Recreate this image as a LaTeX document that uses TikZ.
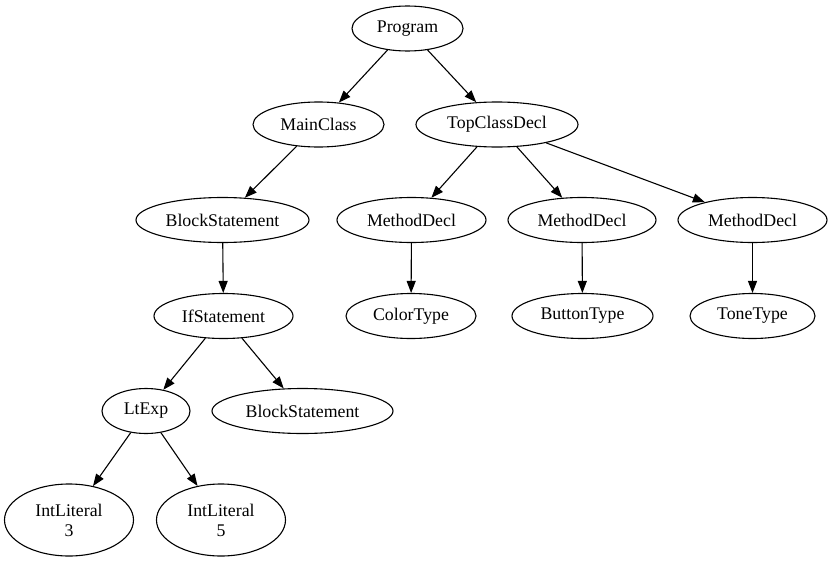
\documentclass[tikz,border=0pt]{standalone}
\usepackage{fontspec}
\setmainfont{Liberation Serif}
\usetikzlibrary{shapes.geometric,arrows.meta}
\begin{document}
\begin{tikzpicture}[x=1pt,y=-1pt,
  tn/.style={ellipse,draw,line width=1.1pt,inner sep=0pt,minimum height=45pt,align=center,font=\fontsize{17.8}{20}\selectfont},
  edge/.style={line width=1.1pt,-{Triangle[length=12pt,width=9pt]}}]
\useasboundingbox (0,0) rectangle (832,562);
\node[tn,minimum width=111pt] (P) at (407.5,28.5) {Program};
\node[tn,minimum width=131pt] (MC) at (318.5,124.5) {MainClass};
\node[tn,minimum width=162pt] (TC) at (497,124.5) {TopClassDecl};
\node[tn,minimum width=173pt] (BS1) at (222.5,220) {BlockStatement};
\node[tn,minimum width=149pt] (MD1) at (411.5,220) {MethodDecl};
\node[tn,minimum width=148pt] (MD2) at (582,220) {MethodDecl};
\node[tn,minimum width=149pt] (MD3) at (752.5,220) {MethodDecl};
\node[tn,minimum width=130pt] (CT) at (411,316) {ColorType};
\node[tn,minimum width=141pt] (BT) at (582.5,316) {ButtonType};
\node[tn,minimum width=125pt] (TT) at (752.5,316) {ToneType};
\node[tn,minimum width=139pt] (IS) at (223.5,316) {IfStatement};
\node[tn,minimum width=88pt] (LE) at (146,411) {LtExp};
\node[tn,minimum width=181pt] (BS2) at (302.5,411) {BlockStatement};
\node[tn,minimum width=129pt,minimum height=72pt] (IL3) at (69,520) {IntLiteral\\3};
\node[tn,minimum width=129pt,minimum height=72pt] (IL5) at (221,520) {IntLiteral\\5};
\draw[edge] (P) -- (MC);
\draw[edge] (P) -- (TC);
\draw[edge] (MC) -- (BS1);
\draw[edge] (BS1) -- (IS);
\draw[edge] (IS) -- (LE);
\draw[edge] (IS) -- (BS2);
\draw[edge] (LE) -- (IL3);
\draw[edge] (LE) -- (IL5);
\draw[edge] (TC) -- (MD1);
\draw[edge] (TC) -- (MD2);
\draw[edge] (TC) -- (MD3);
\draw[edge] (MD1) -- (CT);
\draw[edge] (MD2) -- (BT);
\draw[edge] (MD3) -- (TT);
\end{tikzpicture}
\end{document}
